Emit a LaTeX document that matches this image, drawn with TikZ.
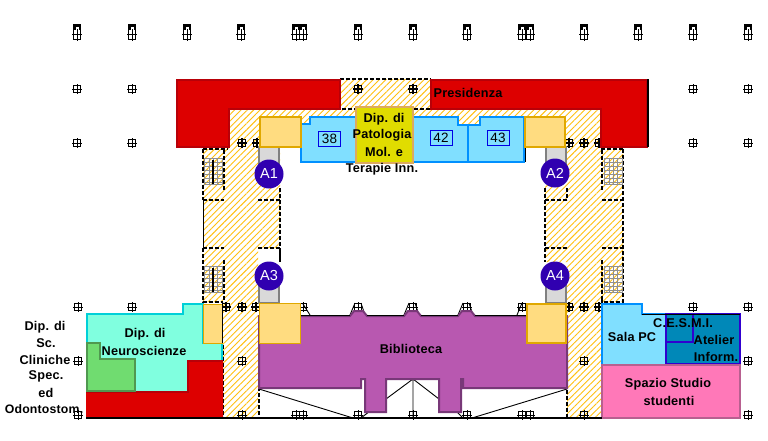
\documentclass[tikz,border=0pt]{standalone}
\usepackage{fontspec}
\setmainfont[LetterSpace=1.5]{Liberation Sans}
\usetikzlibrary{patterns.meta}
\definecolor{redf}{HTML}{DD0000}
\definecolor{redb}{HTML}{B80008}
\definecolor{hatchc}{HTML}{FFC010}
\definecolor{yelf}{HTML}{FFDC80}
\definecolor{yelb}{HTML}{E0A800}
\definecolor{skyf}{HTML}{80DFFF}
\definecolor{skyb}{HTML}{0090FF}
\definecolor{mintf}{HTML}{80FFDF}
\definecolor{mintb}{HTML}{00D0D8}
\definecolor{grnf}{HTML}{70DC70}
\definecolor{grnb}{HTML}{509850}
\definecolor{purf}{HTML}{B858B0}
\definecolor{purb}{HTML}{783878}
\definecolor{tealf}{HTML}{0088B8}
\definecolor{indb}{HTML}{3000D0}
\definecolor{pinkf}{HTML}{FF78B8}
\definecolor{pinkb}{HTML}{B86090}
\definecolor{dipf}{HTML}{E0DC00}
\definecolor{dipb}{HTML}{DCAA60}
\definecolor{liftf}{HTML}{D9D9D9}
\definecolor{circf}{HTML}{3000B0}
\definecolor{stairc}{HTML}{909090}
\tikzset{
  label/.style={font=\fontsize{12.7}{14}\selectfont\bfseries,inner sep=0pt,text=black},
  wide/.style={font=\fontsize{12.3}{14}\selectfont\bfseries,inner sep=0pt},
  roomno/.style={draw=blue!90!black,line width=1pt,font=\fontsize{13.5}{14}\selectfont,minimum width=22pt,minimum height=15pt,inner sep=0pt},
  liftcirc/.style={circle,fill=circf,minimum size=29pt,inner sep=0pt,text=white,font=\fontsize{14.5}{15}\selectfont},
  hatched/.style={pattern={Lines[angle=45,distance=4.5pt,line width=0.9pt]},pattern color=hatchc},
  wall/.style={black,line width=1.6pt,dash pattern=on 4pt off 2pt},
  redroom/.style={fill=redf,draw=redb,line width=2pt},
  yelroom/.style={fill=yelf,draw=yelb,line width=2pt},
  lift/.style={fill=liftf,draw=gray,line width=2pt},
  thinline/.style={black,line width=0.9pt},
}
\newcommand{\tallwin}[1]{%
  \fill[black] (#1-4,24) rectangle (#1+4,30);
  \fill[white] (#1-1.5,26.5) rectangle (#1+1.5,30);
  \draw[black,line width=1.1pt] (#1-3.5,24.5) rectangle (#1+3.5,39.5);
  \draw[black,line width=1pt] (#1,29) -- (#1,41) (#1-5,34) -- (#1+5,34);
}
\newcommand{\smallwin}[2]{%
  \draw[black,line width=1pt] (#1-3.5,#2-3.5) rectangle (#1+3.5,#2+3.5)
     (#1,#2-5) -- (#1,#2+5) (#1-5,#2) -- (#1+5,#2);
}
\newcommand{\boldwin}[2]{%
  \draw[black,line width=1.7pt] (#1-3.5,#2-3.5) rectangle (#1+3.5,#2+3.5)
     (#1,#2-5) -- (#1,#2+5) (#1-5,#2) -- (#1+5,#2);
}
\newcommand{\stairs}[2]{%
  \draw[stairc,line width=1pt] (#1,#2) rectangle (#1+18,#2+26);
  \foreach \dy in {4,8,...,24} {\draw[stairc,line width=1pt] (#1,#2+\dy) -- (#1+18,#2+\dy);}
  \foreach \dx in {5,9,13} {\draw[stairc,line width=1pt] (#1+\dx,#2) -- (#1+\dx,#2+26);}
}
\begin{document}
\begin{tikzpicture}[x=1pt,y=-1pt]
\useasboundingbox (0,0) rectangle (768,440);
\fill[white] (0,0) rectangle (768,440);
% hatched corridors
\path[hatched] (340,79) -- (431,79) -- (431,109) -- (600,109) -- (600,149) -- (623,149) -- (623,302) -- (602,302) -- (602,418) -- (567,418) -- (567,262) -- (545,262) -- (545,147) -- (525,147) -- (525,125) -- (301,125) -- (301,147) -- (280,147) -- (280,248) -- (258,248) -- (258,418) -- (223,418) -- (223,302) -- (203,302) -- (203,149) -- (228,149) -- (228,109) -- (340,109) -- cycle;
% dashed walls
\draw[wall] (340,79) -- (431,79);
\draw[wall] (228,109) -- (600,109);
\draw[wall] (203,149) -- (228,149) (203,149) -- (203,200) (224,150) -- (224,190) (203,200) -- (224,200);
\draw[wall] (203,248) -- (224,248) (203,248) -- (203,302) -- (223,302) (224,260) -- (224,302);
\draw[black,line width=0.8pt] (203,200) -- (203,248);
\draw[wall] (258,200) -- (280,200) (280,188) -- (280,248) (258,248) -- (280,248);
\draw[black,line width=1.5pt] (280,248) -- (280,262);
\draw[wall] (623,149) -- (600,149) (623,149) -- (623,302) -- (602,302) (602,150) -- (602,190) (602,200) -- (623,200) (602,248) -- (623,248) (602,260) -- (602,302);
\draw[wall] (545,200) -- (567,200) (545,188) -- (545,262) (545,248) -- (567,248) (567,188) -- (567,200);
\draw[wall] (259,345) -- (259,418) (223,345) -- (223,418) (567,390) -- (567,418) (602,300) -- (602,418);
% stairs
\stairs{204}{158}
\stairs{204}{266}
\stairs{604}{158}
\stairs{604}{266}
\draw[black,line width=1.2pt] (213,160) -- (213,184) (213,268) -- (213,292);
% windows
\foreach \x in {77,132,187,241,296,303,358,413,467,522,530,584,638,693,748} {\tallwin{\x}}
\foreach \x in {77,132,693,748} {\smallwin{\x}{89}}
\foreach \x in {358,413} {\boldwin{\x}{89}}
\foreach \x in {77,132,693,748} {\smallwin{\x}{143}}
\foreach \x in {242,257,569,584,599} {\boldwin{\x}{143}}
\foreach \x in {78,132,303,358,413,467,522,693,748} {\smallwin{\x}{307}}
\foreach \x in {226,242,256,569,584,599} {\boldwin{\x}{307}}
\foreach \x in {78,242,584,748} {\smallwin{\x}{361}}
\foreach \x in {78,242,296,303,358,413,467,522,530,584,748} {\smallwin{\x}{415}}
% lifts
\draw[lift] (259,147) rectangle (279,180);
\draw[lift] (546,147) rectangle (566,180);
\draw[lift] (259,270) rectangle (279,303);
\draw[lift] (546,270) rectangle (566,303);
% presidenza
\draw[redroom] (177,80) -- (340,80) -- (340,109) -- (229,109) -- (229,147) -- (177,147) -- cycle;
\draw[redroom] (431,80) -- (647,80) -- (647,147) -- (601,147) -- (601,109) -- (431,109) -- cycle;
\draw[black,line width=1.2pt] (648,79) -- (648,147);
% top rooms
\draw[fill=skyf,draw=skyb,line width=2pt] (301,124) -- (310,124) -- (310,117) -- (458,117) -- (458,125) -- (480,125) -- (480,117) -- (524,117) -- (524,162) -- (301,162) -- cycle;
\draw[skyb,line width=2pt] (468,125) -- (468,162);
\draw[black,line width=1pt] (525,148) -- (525,162);
\draw[yelroom] (260,117) rectangle (301,147);
\draw[yelroom] (525,117) rectangle (565,147);
\draw[fill=dipf,draw=dipb,line width=2.5pt] (356,107) rectangle (413,163);
\node[roomno] (r38) at (329.5,138.5) {38};
\node[roomno] (r42) at (441,138) {42};
\node[roomno] (r43) at (498,138) {43};
% neuroscienze
\draw[fill=mintf,draw=mintb,line width=2pt] (87,314) -- (183,314) -- (183,304) -- (203,304) -- (203,343) -- (222,343) -- (222,362) -- (188,362) -- (188,392) -- (87,392) -- cycle;
\draw[yelroom,line width=1pt] (203,304) rectangle (222,343);
\draw[black,line width=1pt] (222,304) -- (222,343);
\fill[redf] (86,392) -- (188,392) -- (188,361) -- (223,361) -- (223,418) -- (86,418) -- cycle;
\draw[redb,line width=1.2pt] (86,392) -- (188,392) -- (188,361) -- (223,361);
\draw[fill=grnf,draw=grnb,line width=2pt] (87,343) -- (100,343) -- (100,359) -- (135,359) -- (135,391) -- (87,391) -- cycle;
% biblioteca
\draw[thinline] (303,304) -- (310,315) (350,315) -- (355,303) (365,315) -- (361,303) (404,315) -- (409,303) (419,315) -- (415,303) (458,315) -- (463,303) (473,315) -- (469,303) (517,315) -- (522,303);
\draw[thinline] (259,389) -- (353,418) (361,418) -- (370,411) (386,399) -- (413,379) -- (439,399) (413,379) -- (413,418) (457,412) -- (463,418) (472,418) -- (567,389);
\draw[fill=purf,draw=purb,line width=2pt] (259,316) -- (350,316) -- (354,311) -- (363,311) -- (367,316) -- (404,316) -- (408,311) -- (417,311) -- (421,316) -- (458,316) -- (462,311) -- (471,311) -- (475,316) -- (567,316) -- (567,388) -- (463,388) -- (463,379) -- (461,379) -- (461,412) -- (439,412) -- (439,379) -- (386,379) -- (386,412) -- (365,412) -- (365,379) -- (361,379) -- (361,388) -- (259,388) -- cycle;
\draw[black,line width=1pt] (300,315) -- (350,315) (367,315) -- (404,315) (421,315) -- (458,315) (475,315) -- (527,315);
\draw[yelroom,line width=1pt] (259,303) rectangle (300,343);
\draw[yelroom] (527,304) rectangle (566,343);
% right block
\draw[fill=skyf,draw=skyb,line width=2pt] (602,304) -- (642,304) -- (642,314) -- (666,314) -- (666,365) -- (602,365) -- cycle;
\draw[fill=tealf,draw=indb,line width=2pt] (666,314) rectangle (740,364);
\draw[indb,line width=2pt] (666,342) -- (693,342) -- (693,314);
\draw[black,line width=1pt] (642,314) -- (740,314);
\draw[fill=pinkf,draw=pinkb,line width=2pt] (602,365) rectangle (740,418);
% bottom line
\draw[black,line width=1.5pt] (86,418) -- (602,418);
% circles
\node[liftcirc] (a1) at (269,174) {A1};
\node[liftcirc] (a2) at (555,173) {A2};
\node[liftcirc] (a3) at (269,276) {A3};
\node[liftcirc] (a4) at (555,276) {A4};
% labels
\node[label] (pres) at (468,92.5) {Presidenza};
\node[label] (dp1) at (384,119) {Dip. di};
\node[label] (dp2) at (382,135) {Patologia};
\node[label] (dp3) at (384,152) {Mol. e};
\node[label] (dp4) at (382,169) {Terapie Inn.};
\node[label] (bib) at (411,348.5) {Biblioteca};
\node[label] (ne1) at (145,334.5) {Dip. di};
\node[label] (ne2) at (144,351) {Neuroscienze};
\node[label] (cl1) at (45,327) {Dip. di};
\node[label] (cl2) at (46,343) {Sc.};
\node[label] (cl3) at (45,360) {Cliniche};
\node[label] (cl4) at (46,376) {Spec.};
\node[label] (cl5) at (46,393) {ed};
\node[wide] (cl6) at (44,409) {Odontostom.};
\node[label] (sala) at (632,337) {Sala PC};
\node[label] (ces) at (683,323) {C.E.S.M.I.};
\node[label] (ate) at (714,340) {Atelier};
\node[label] (inf) at (716,356.5) {Inform.};
\node[label] (sp1) at (668,384) {Spazio Studio};
\node[label] (sp2) at (669,400.5) {studenti};
\end{tikzpicture}
\end{document}
